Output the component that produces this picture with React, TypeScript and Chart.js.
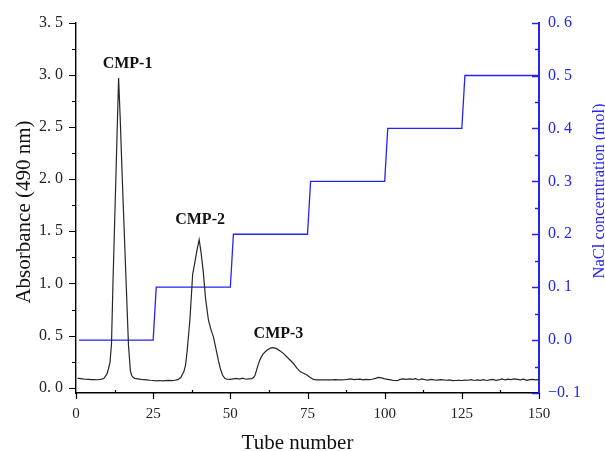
import React, { useEffect, useRef } from 'react';
import { Chart, registerables } from 'chart.js';

Chart.register(...registerables);

// Absorbance curve (tube number, absorbance at 490 nm)
const tubes = [
  0.5, 1, 2, 3, 4, 5, 6, 7, 8, 9, 10, 10.5, 11, 11.5, 12, 13, 13.8, 14.3, 15, 16, 17, 17.6, 18, 18.5, 19,
  20, 21, 22, 23, 24, 25, 26, 27, 28, 29, 30, 31, 32, 33, 34, 35, 35.5, 36, 36.9, 37.8, 38.5, 39.2, 39.9,
  40.5, 41.2, 42, 42.9, 43.7, 44.5, 45.3, 46.1, 46.8, 47.5, 48.2, 48.8, 50, 51, 52, 53, 54, 55, 56, 57,
  57.6, 58, 59, 59.6, 60.5, 61.8, 63, 63.9, 65, 66, 67.2, 68.5, 70.4, 71.5, 72.6, 73.7, 74.7, 75.8, 76.9,
  78, 79, 80, 81, 82, 83, 84, 85, 86, 87, 88, 89, 90, 91, 92, 93, 94, 95, 96, 97, 98, 99, 100,
  101, 102, 103, 104, 105, 106, 107, 108, 109, 110, 111, 112, 113, 114, 115, 116, 117, 118, 119, 120,
  121, 122, 123, 124, 125, 126, 127, 128, 129, 130, 131, 132, 133, 134, 135, 136, 137, 138, 139, 140,
  141, 142, 143, 144, 145, 146, 147, 148, 149, 150,
];
const absorbance = [
  0.09, 0.09, 0.086, 0.082, 0.08, 0.078, 0.079, 0.077, 0.08, 0.088, 0.13, 0.18, 0.24, 0.42, 1.03, 2.1, 2.97, 2.6, 2.0, 1.2, 0.41, 0.17, 0.12, 0.1, 0.09,
  0.085, 0.08, 0.078, 0.075, 0.072, 0.07, 0.067, 0.07, 0.066, 0.069, 0.071, 0.068, 0.072, 0.078, 0.1, 0.16, 0.22, 0.35, 0.65, 1.09, 1.2, 1.32, 1.42,
  1.3, 1.12, 0.85, 0.65, 0.56, 0.49, 0.38, 0.265, 0.18, 0.12, 0.09, 0.082, 0.08, 0.086, 0.09, 0.084, 0.092, 0.082, 0.086, 0.088,
  0.1, 0.12, 0.22, 0.27, 0.32, 0.36, 0.38, 0.385, 0.375, 0.355, 0.33, 0.29, 0.235, 0.19, 0.155, 0.14, 0.125, 0.1, 0.08,
  0.075, 0.075, 0.077, 0.075, 0.076, 0.075, 0.078, 0.076, 0.075, 0.077, 0.08, 0.085, 0.078, 0.08, 0.082, 0.076, 0.08, 0.078, 0.082, 0.09, 0.1, 0.095, 0.085,
  0.08, 0.075, 0.07, 0.068, 0.08, 0.085, 0.08, 0.086, 0.08, 0.088, 0.075, 0.085, 0.078, 0.074, 0.08, 0.076, 0.074, 0.078, 0.075, 0.072,
  0.075, 0.068, 0.07, 0.072, 0.07, 0.074, 0.072, 0.078, 0.07, 0.075, 0.072, 0.078, 0.07, 0.076, 0.08, 0.072, 0.075, 0.085, 0.075, 0.082,
  0.078, 0.085, 0.08, 0.075, 0.082, 0.072, 0.078, 0.08, 0.076, 0.078,
];

// NaCl step gradient
const naclTubes = [1, 25, 26, 50, 51, 75, 76, 100, 101, 125, 126, 150];
const naclValues = [0, 0, 0.1, 0.1, 0.2, 0.2, 0.3, 0.3, 0.4, 0.4, 0.5, 0.5];

// Ticks
const xTicks = [0, 25, 50, 75, 100, 125, 150];
const leftTicks = [0, 0.5, 1, 1.5, 2, 2.5, 3, 3.5];
const rightTicks = [-0.1, 0, 0.1, 0.2, 0.3, 0.4, 0.5, 0.6];

// Peak annotations
const peakNames = ['CMP-1', 'CMP-2', 'CMP-3'];
const peakLabelX = [16.7, 40.2, 65.6];
const peakLabelY = [3.1, 1.61, 0.52];

const BLUE = '#2424f0';
const SERIF = '"Liberation Serif", "Times New Roman", serif';

const fmt = (v: number) => v.toFixed(1).replace('.', '. ').replace('-', '\u2212');

const decor = {
  id: 'decor',
  afterDraw(chart: any) {
    const { ctx, chartArea: ca, scales } = chart;
    const x = scales.x;
    const y = scales.y;
    const y1 = scales.y1;
    const r = (p: number) => Math.round(p) + 0.5;
    ctx.save();

    // left axis ticks (outward)
    ctx.strokeStyle = '#000';
    ctx.lineWidth = 1.2;
    ctx.beginPath();
    for (let i = 0; i < leftTicks.length; i++) {
      const p = r(y.getPixelForValue(leftTicks[i]));
      ctx.moveTo(ca.left, p);
      ctx.lineTo(ca.left - 7, p);
      if (i < leftTicks.length - 1) {
        const m = r(y.getPixelForValue((leftTicks[i] + leftTicks[i + 1]) / 2));
        ctx.moveTo(ca.left, m);
        ctx.lineTo(ca.left - 4, m);
      }
    }
    // x axis ticks: major down, minor up
    for (let i = 0; i < xTicks.length; i++) {
      const p = r(x.getPixelForValue(xTicks[i]));
      ctx.moveTo(p, ca.bottom);
      ctx.lineTo(p, ca.bottom + 6);
      if (i < xTicks.length - 1) {
        const m = r(x.getPixelForValue((xTicks[i] + xTicks[i + 1]) / 2));
        ctx.moveTo(m, ca.bottom);
        ctx.lineTo(m, ca.bottom - 3);
      }
    }
    ctx.stroke();

    // right axis ticks (inward)
    ctx.strokeStyle = BLUE;
    ctx.lineWidth = 1.6;
    ctx.beginPath();
    for (let i = 0; i < rightTicks.length; i++) {
      const p = r(y1.getPixelForValue(rightTicks[i]));
      ctx.moveTo(ca.right, p);
      ctx.lineTo(ca.right - 7, p);
      if (i < rightTicks.length - 1) {
        const m = r(y1.getPixelForValue((rightTicks[i] + rightTicks[i + 1]) / 2));
        ctx.moveTo(ca.right, m);
        ctx.lineTo(ca.right - 4, m);
      }
    }
    ctx.stroke();

    // peak labels
    ctx.fillStyle = '#111';
    ctx.font = `bold 16px ${SERIF}`;
    ctx.textAlign = 'center';
    ctx.textBaseline = 'middle';
    for (let i = 0; i < peakNames.length; i++) {
      ctx.fillText(peakNames[i], x.getPixelForValue(peakLabelX[i]), y.getPixelForValue(peakLabelY[i]));
    }

    // axis titles
    ctx.textBaseline = 'alphabetic';
    ctx.font = `21px ${SERIF}`;
    ctx.fillStyle = '#111';
    ctx.fillText('Tube number', 297.5, 449);

    ctx.save();
    ctx.translate(29.5, 212);
    ctx.rotate(-Math.PI / 2);
    ctx.fillText('Absorbance (490 nm)', 0, 0);
    ctx.restore();

    ctx.save();
    ctx.fillStyle = BLUE;
    ctx.font = `16.5px ${SERIF}`;
    ctx.translate(604, 191);
    ctx.rotate(-Math.PI / 2);
    ctx.fillText('NaCl concerntration (mol)', 0, 0);
    ctx.restore();

    ctx.restore();
  },
};

export default function App() {
  const ref = useRef<HTMLCanvasElement | null>(null);

  useEffect(() => {
    document.body.style.margin = '0';
    const canvas = ref.current;
    if (!canvas) return;
    const absData = tubes.map((t, i) => ({ x: t, y: absorbance[i] }));
    const naclData = naclTubes.map((t, i) => ({ x: t, y: naclValues[i] }));

    const chart = new Chart(canvas, {
      type: 'line',
      data: {
        datasets: [
          {
            label: 'Absorbance (490 nm)',
            data: absData,
            yAxisID: 'y',
            borderColor: '#262626',
            borderWidth: 1.2,
            pointRadius: 0,
            tension: 0,
            fill: false,
          },
          {
            label: 'NaCl concentration (mol)',
            data: naclData,
            yAxisID: 'y1',
            borderColor: BLUE,
            borderWidth: 1.3,
            pointRadius: 0,
            tension: 0,
            fill: false,
          },
        ],
      },
      options: {
        responsive: false,
        animation: false,
        devicePixelRatio: 1,
        layout: { padding: { top: 19, left: 0, right: 0, bottom: 0 } },
        plugins: {
          legend: { display: false },
          tooltip: { enabled: false },
          title: { display: false },
        },
        scales: {
          x: {
            type: 'linear',
            min: 0,
            max: 150,
            afterBuildTicks: (s: any) => {
              s.ticks = xTicks.map((v) => ({ value: v }));
            },
            afterFit: (s: any) => {
              s.height = 58;
            },
            grid: { display: false, drawTicks: false },
            border: { display: true, color: '#000', width: 1.4 },
            ticks: {
              padding: 12,
              color: '#222',
              font: { family: SERIF, size: 15 },
              maxRotation: 0,
              callback: (v: any) => String(v),
            },
          },
          y: {
            type: 'linear',
            position: 'left',
            min: -0.05,
            max: 3.5,
            afterBuildTicks: (s: any) => {
              s.ticks = leftTicks.map((v) => ({ value: v }));
            },
            afterFit: (s: any) => {
              s.width = 76;
            },
            grid: { display: false, drawTicks: false },
            border: { display: true, color: '#000', width: 1.4 },
            ticks: {
              padding: 13,
              color: '#222',
              font: { family: SERIF, size: 16 },
              callback: (v: any) => fmt(Number(v)),
            },
          },
          y1: {
            type: 'linear',
            position: 'right',
            min: -0.1,
            max: 0.6,
            afterBuildTicks: (s: any) => {
              s.ticks = rightTicks.map((v) => ({ value: v }));
            },
            afterFit: (s: any) => {
              s.width = 66;
            },
            grid: { display: false, drawTicks: false },
            border: { display: true, color: BLUE, width: 2 },
            ticks: {
              padding: 9,
              color: BLUE,
              font: { family: SERIF, size: 16 },
              callback: (v: any) => fmt(Number(v)),
            },
          },
        },
      },
      plugins: [decor],
    });

    return () => chart.destroy();
  }, []);

  return (
    <div style={{ position: 'absolute', left: 0, top: 0, width: 605, height: 451 }}>
      <canvas ref={ref} width={605} height={451} style={{ display: 'block' }} />
    </div>
  );
}
